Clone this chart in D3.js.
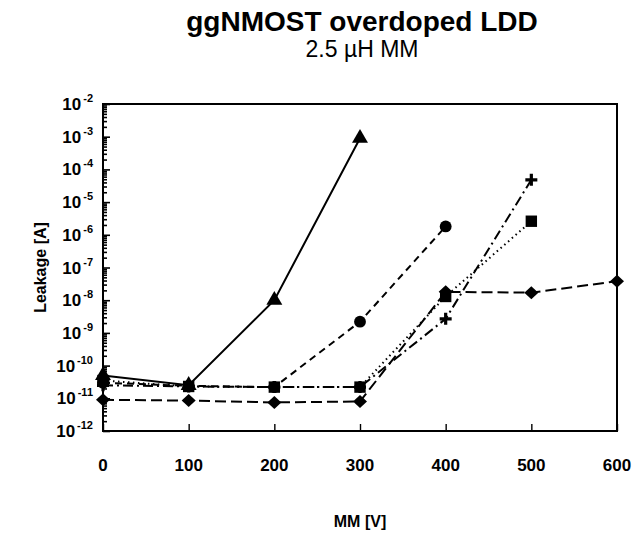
<!DOCTYPE html>
<html>
<head>
<meta charset="utf-8">
<script src="https://cdn.jsdelivr.net/npm/d3@7"></script>
<style>
  html, body { margin: 0; padding: 0; background: #fff; }
  svg { display: block; font-family: "Liberation Sans", Arial, sans-serif; }
</style>
</head>
<body>
<svg id="chart" width="635" height="538"></svg>
<script>
// MM stress voltage (V)
const mmVoltage = [0, 100, 200, 300, 400, 500, 600];

// Leakage current (A) per device; null = not measured
const leakTriangle = [5e-11, 2.5e-11, 1e-8, 9e-4, null, null, null];
const leakCircle   = [3e-11, 2.4e-11, 2.2e-11, 2.2e-9, 1.8e-6, null, null];
const leakSquare   = [3.5e-11, 2.3e-11, 2.2e-11, 2.2e-11, 1.3e-8, 2.6e-6, null];
const leakPlus     = [2.5e-11, 2.3e-11, 2.2e-11, 2.2e-11, 2.7e-9, 4.8e-5, null];
const leakDiamond  = [9e-12, 8.5e-12, 7.5e-12, 8e-12, 1.8e-8, 1.7e-8, 3.8e-8];

const xTicks = [0, 100, 200, 300, 400, 500, 600];
const yExponents = [-2, -3, -4, -5, -6, -7, -8, -9, -10, -11, -12];

const titleText = "ggNMOST overdoped LDD";
const subtitleText = "2.5 \u00b5H MM";
const xLabel = "MM [V]";
const yLabel = "Leakage [A]";

const svg = d3.select("#chart");
const plotLeft = 103, plotRight = 617, plotTop = 104, plotBottom = 431;

const x = d3.scaleLinear().domain([0, 600]).range([plotLeft, plotRight]);
const y = d3.scaleLog().domain([1e-12, 1e-2]).range([plotBottom, plotTop]);

// Titles
svg.append("text").attr("x", 362).attr("y", 31).attr("text-anchor", "middle")
  .attr("font-size", 28).attr("font-weight", "bold").attr("fill", "#000").text(titleText);
svg.append("text").attr("x", 362).attr("y", 57).attr("text-anchor", "middle")
  .attr("font-size", 23).attr("fill", "#000").text(subtitleText);

// Frame
svg.append("rect").attr("x", plotLeft).attr("y", plotTop)
  .attr("width", plotRight - plotLeft).attr("height", plotBottom - plotTop)
  .attr("fill", "none").attr("stroke", "#000").attr("stroke-width", 2);

// Y axis: major + minor log ticks pointing inward
const minorVals = [];
for (let e = -12; e < -2; e++) {
  for (let m = 2; m <= 9; m++) minorVals.push(m * Math.pow(10, e));
}
const yAxisMinor = d3.axisRight(y).tickValues(minorVals).tickSize(4).tickFormat("");
const yAxisMajor = d3.axisRight(y).tickValues(yExponents.map(e => Math.pow(10, e))).tickSize(7).tickFormat("");
[yAxisMinor, yAxisMajor].forEach(ax => {
  const g = svg.append("g").attr("transform", `translate(${plotLeft},0)`).call(ax);
  g.select(".domain").remove();
  g.selectAll("line").attr("stroke", "#000").attr("stroke-width", 1.6);
});

// Y tick labels as 10^n
const yLab = svg.append("g");
yExponents.forEach(e => {
  const t = yLab.append("text").attr("x", 93).attr("y", y(Math.pow(10, e)) + 6)
    .attr("text-anchor", "end").attr("font-size", 17).attr("font-weight", "bold").attr("fill", "#000");
  t.append("tspan").text("10");
  t.append("tspan").attr("dy", -8).attr("dx", 2).attr("font-size", 11).text(String(e));
});

// X axis ticks pointing inward
const xAxis = d3.axisTop(x).tickValues(xTicks).tickSize(7).tickFormat("");
const gx = svg.append("g").attr("transform", `translate(0,${plotBottom})`).call(xAxis);
gx.select(".domain").remove();
gx.selectAll("line").attr("stroke", "#000").attr("stroke-width", 1.4);

xTicks.forEach(v => {
  svg.append("text").attr("x", x(v)).attr("y", 471).attr("text-anchor", "middle")
    .attr("font-size", 17).attr("font-weight", "bold").attr("fill", "#000").text(v);
});

svg.append("text").attr("x", 360).attr("y", 527).attr("text-anchor", "middle")
  .attr("font-size", 16).attr("font-weight", "bold").attr("fill", "#000").text(xLabel);
svg.append("text").attr("transform", `translate(46,${(plotTop + plotBottom) / 2}) rotate(-90)`)
  .attr("text-anchor", "middle").attr("font-size", 16).attr("font-weight", "bold").attr("fill", "#000").text(yLabel);

// Series
const series = [
  { values: leakDiamond, dash: "11,5", marker: "diamond", size: 0 },
  { values: leakCircle, dash: "7,5", marker: d3.symbolCircle, size: 110 },
  { values: leakSquare, dash: "1.5,3.5", marker: d3.symbolSquare, size: 130 },
  { values: leakPlus, dash: "10,4,2,4", marker: "plus", size: 0 },
  { values: leakTriangle, dash: null, marker: d3.symbolTriangle, size: 110 }
];

const line = d3.line()
  .defined(d => d[1] != null)
  .x(d => x(d[0]))
  .y(d => y(d[1]));

const plot = svg.append("g");
series.forEach(s => {
  const pts = mmVoltage.map((v, i) => [v, s.values[i]]);
  plot.append("path").datum(pts).attr("d", line)
    .attr("fill", "none").attr("stroke", "#000").attr("stroke-width", 2)
    .attr("stroke-dasharray", s.dash);
});
series.forEach(s => {
  const pts = mmVoltage.map((v, i) => [v, s.values[i]]).filter(d => d[1] != null);
  pts.forEach(d => {
    const cx = x(d[0]), cy = y(d[1]);
    if (s.marker === "plus") {
      plot.append("path")
        .attr("d", `M${cx - 6},${cy}H${cx + 6}M${cx},${cy - 6}V${cy + 6}`)
        .attr("stroke", "#000").attr("stroke-width", 3.2).attr("fill", "none");
    } else if (s.marker === "diamond") {
      plot.append("path")
        .attr("d", `M${cx - 7},${cy}L${cx},${cy - 6.5}L${cx + 7},${cy}L${cx},${cy + 6.5}Z`)
        .attr("fill", "#000");
    } else {
      plot.append("path")
        .attr("d", d3.symbol().type(s.marker).size(s.size)())
        .attr("transform", `translate(${cx},${cy})`).attr("fill", "#000");
    }
  });
});
</script>
</body>
</html>
